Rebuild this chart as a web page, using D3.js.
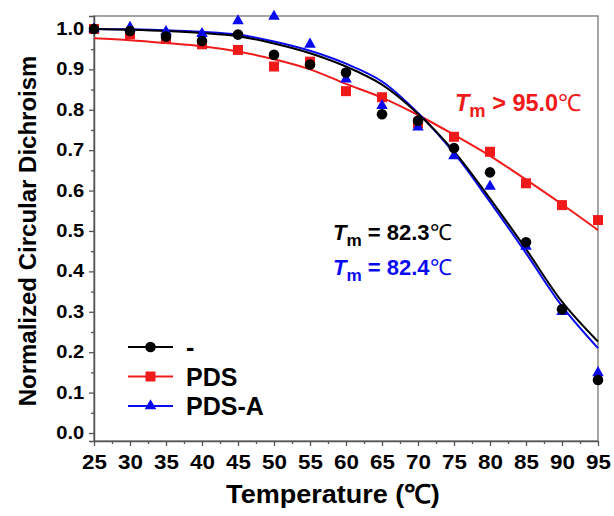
<!DOCTYPE html>
<html>
<head>
<meta charset="utf-8">
<script src="https://cdn.jsdelivr.net/npm/d3@7"></script>
<style>
  body { margin: 0; background: #fff; }
  text { font-family: "Liberation Sans", Arial, sans-serif; }
</style>
</head>
<body>
<script>
// measured points
var temps = [25, 30, 35, 40, 45, 50, 55, 60, 65, 70, 75, 80, 85, 90, 95]
var ctrl = [1.0, 0.995, 0.981, 0.970, 0.986, 0.936, 0.912, 0.892, 0.789, 0.773, 0.705, 0.645, 0.472, 0.306, 0.131]
var pds = [1.0, 0.987, 0.975, 0.962, 0.948, 0.907, 0.919, 0.846, 0.831, 0.767, 0.733, 0.696, 0.618, 0.564, 0.527]
var pdsA = [1.0, 1.004, 0.993, 0.988, 1.020, 1.031, 0.962, 0.876, 0.810, 0.757, 0.686, 0.610, 0.462, 0.300, 0.149]

// fitted curves
var fitT = [25, 30, 35, 40, 45, 50, 55, 60, 65, 70, 75, 80, 85, 90, 95]
var ctrlFit = [1.0, 0.998, 0.995, 0.99, 0.982, 0.964, 0.94, 0.907, 0.862, 0.79, 0.697, 0.58, 0.455, 0.325, 0.226]
var pdsFit = [0.977, 0.972, 0.965, 0.957, 0.944, 0.925, 0.9, 0.864, 0.83, 0.787, 0.738, 0.686, 0.627, 0.566, 0.502]
var pdsAFit = [1.0, 0.999, 0.997, 0.993, 0.986, 0.969, 0.946, 0.914, 0.87, 0.792, 0.693, 0.572, 0.445, 0.314, 0.21]

var xTicks = d3.range(25, 96, 5)
var yTicks = d3.range(0, 1.01, 0.1)

var W = 614, H = 516
var m = {l: 94, t: 16, r: 16, b: 75}

var svg = d3.select('body').append('svg')
  .attr('width', W)
  .attr('height', H)

var x = d3.scaleLinear().domain([25, 95]).range([m.l, W - m.r])
var y = d3.scaleLinear().domain([-0.0198, 1.032]).range([H - m.b, m.t])

// frame
svg.append('rect')
  .attr('x', m.l).attr('y', m.t)
  .attr('width', W - m.r - m.l).attr('height', H - m.b - m.t)
  .attr('fill', 'none').attr('stroke', '#888').attr('stroke-width', 1.5)

// minor ticks
svg.append('g')
  .attr('transform', 'translate(0,' + (H - m.b) + ')')
  .call(d3.axisBottom(x).tickValues(d3.range(27.5, 95, 5)).tickSize(3).tickFormat(''))
  .call(g => g.select('.domain').remove())
  .selectAll('line').attr('stroke', '#555').attr('stroke-width', 1.3)
svg.append('g')
  .attr('transform', 'translate(' + m.l + ',0)')
  .call(d3.axisLeft(y).tickValues(d3.range(0.05, 1.0, 0.1)).tickSize(3).tickFormat(''))
  .call(g => g.select('.domain').remove())
  .selectAll('line').attr('stroke', '#555').attr('stroke-width', 1.3)

var xa = svg.append('g')
  .attr('transform', 'translate(0,' + (H - m.b) + ')')
  .call(d3.axisBottom(x).tickValues(xTicks).tickSize(5).tickPadding(9).tickSizeOuter(0))
xa.select('.domain').attr('stroke', '#555').attr('stroke-width', 1.5)
xa.selectAll('line').attr('stroke', '#555').attr('stroke-width', 1.3)
xa.selectAll('text')
  .attr('font-size', 20).attr('font-weight', 'bold').attr('fill', '#000')
  .attr('font-family', 'Liberation Sans, Arial, sans-serif')
  .attr('transform', 'scale(1.12,1)')

var ya = svg.append('g')
  .attr('transform', 'translate(' + m.l + ',0)')
  .call(d3.axisLeft(y).tickValues(yTicks).tickSize(5).tickFormat(d3.format('.1f')))
ya.select('.domain').attr('stroke', '#555').attr('stroke-width', 1.5)
ya.selectAll('line').attr('stroke', '#555').attr('stroke-width', 1.3)
ya.selectAll('text')
  .attr('x', -8.5)
  .attr('font-size', 17.5).attr('font-weight', 'bold').attr('fill', '#000')
  .attr('font-family', 'Liberation Sans, Arial, sans-serif')
  .attr('transform', 'scale(1.15,1)')

// axis titles
svg.append('text')
  .attr('transform', 'translate(' + ((m.l + W - m.r) / 2 - 13) + ',503) scale(1.04,1)')
  .attr('text-anchor', 'middle')
  .attr('font-size', 26).attr('font-weight', 'bold')
  .text('Temperature (℃)')

svg.append('text')
  .attr('transform', 'translate(36,' + y(0.5) + ') rotate(-90)')
  .attr('text-anchor', 'middle')
  .attr('font-size', 24).attr('font-weight', 'bold')
  .text('Normalized Circular Dichroism')

var series = [
  {name: 'PDS', vals: pds, fit: pdsFit, color: '#f01a1a', shape: d3.symbolSquare, size: 100},
  {name: 'PDS-A', vals: pdsA, fit: pdsAFit, color: '#0a0af0', shape: d3.symbolTriangle, size: 58},
  {name: '-', vals: ctrl, fit: ctrlFit, color: '#000', shape: d3.symbolCircle, size: 88}
]

var line = d3.line()
  .x((d, i) => x(fitT[i]))
  .y(d => y(d))
  .curve(d3.curveCatmullRom)

var plot = svg.append('g')

series.forEach(function (s) {
  plot.append('path')
    .datum(s.fit)
    .attr('d', line)
    .attr('fill', 'none')
    .attr('stroke', s.color)
    .attr('stroke-width', 2)
})

series.forEach(function (s) {
  plot.selectAll(null)
    .data(s.vals)
    .enter().append('path')
    .attr('transform', (d, i) => 'translate(' + x(temps[i]) + ',' + y(d) + ')')
    .attr('d', d3.symbol().type(s.shape).size(s.size))
    .attr('fill', s.color)
})

// legend
var legendItems = [series[2], series[0], series[1]]
var lg = svg.append('g')
legendItems.forEach(function (s, i) {
  var ly = 347 + i * 29.5
  lg.append('line')
    .attr('x1', 128).attr('x2', 173).attr('y1', ly).attr('y2', ly)
    .attr('stroke', s.color).attr('stroke-width', 2)
  lg.append('path')
    .attr('transform', 'translate(150.5,' + ly + ')')
    .attr('d', d3.symbol().type(s.shape).size(s.size))
    .attr('fill', s.color)
  lg.append('text')
    .attr('x', 186).attr('y', ly + 9)
    .attr('font-size', 25).attr('font-weight', 'bold')
    .attr('fill', '#000')
    .text(s.name)
})

// Tm annotations
function tmLabel(px, py, rel, color, fs) {
  var t = svg.append('text')
    .attr('x', px).attr('y', py)
    .attr('fill', color).attr('font-weight', 'bold').attr('font-size', fs)
  t.append('tspan').attr('font-style', 'italic').text('T')
  t.append('tspan').attr('font-size', fs * 0.78).attr('dy', 6).text('m')
  t.append('tspan').attr('dy', -6).text(' ' + rel)
  t.append('tspan').attr('font-weight', 'normal').text('℃')
}
tmLabel(455, 111, '> 95.0', '#f01a1a', 23.5)
tmLabel(333, 240, '= 82.3', '#000', 22)
tmLabel(333, 275, '= 82.4', '#0a0af0', 22)
</script>
</body>
</html>
